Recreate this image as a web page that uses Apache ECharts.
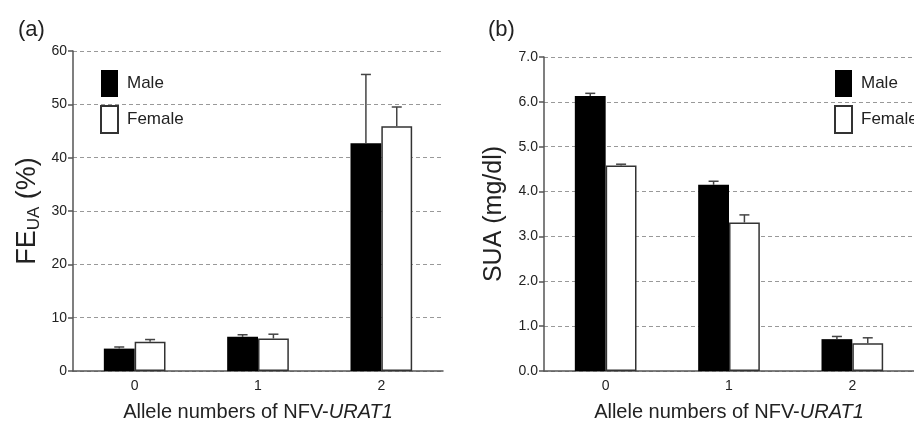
<!DOCTYPE html>
<html>
<head>
<meta charset="utf-8">
<script src="https://cdn.jsdelivr.net/npm/echarts@6/dist/echarts.min.js"></script>
<style>
html, body { margin: 0; padding: 0; background: #fff; }
#chart { width: 914px; height: 421px; }
</style>
</head>
<body>
<div id="chart"></div>
<script>
// allele numbers of NFV-URAT1
var categories = ['0', '1', '2'];

// (a) FE_UA (%)
var feMale = [4.2, 6.4, 42.7];
var feMaleErr = [0.3, 0.4, 12.9];
var feFemale = [5.5, 6.1, 45.9];
var feFemaleErr = [0.4, 0.8, 3.6];

// (b) SUA (mg/dl)
var suaMale = [6.13, 4.15, 0.71];
var suaMaleErr = [0.06, 0.08, 0.06];
var suaFemale = [4.58, 3.31, 0.62];
var suaFemaleErr = [0.03, 0.17, 0.12];

var feTicks = [0, 60, 10];
var suaTicks = [0, 7, 1];

var font = 'Liberation Sans, Arial, sans-serif';
var txt = '#222';
var axisCol = '#555';

function errData(vals, errs) {
    return vals.map(function (v, i) { return [i, v, errs[i]]; });
}

// error bar drawn only upward, sign picks male (left) or female (right) bar
function errRender(sign) {
    return function (params, api) {
        var c = api.value(0), v = api.value(1), e = api.value(2);
        var band = api.size([1, 0])[0];
        var x = api.coord([c, 0])[0] + sign * band / 8;
        var y0 = api.coord([c, v])[1];
        var y1 = api.coord([c, v + e])[1];
        var st = { stroke: '#444', lineWidth: 1.5 };
        return {
            type: 'group',
            children: [
                { type: 'line', shape: { x1: x, y1: y0, x2: x, y2: y1 }, style: st },
                { type: 'line', shape: { x1: x - 5, y1: y1, x2: x + 5, y2: y1 }, style: st }
            ]
        };
    };
}

function xAxisOpt(idx) {
    return {
        type: 'category',
        gridIndex: idx,
        data: categories,
        name: '{n|Allele numbers of NFV-}{i|URAT1}',
        nameLocation: 'middle',
        nameGap: 31,
        nameTextStyle: {
            rich: {
                n: { fontFamily: font, fontSize: 20, color: txt },
                i: { fontFamily: font, fontSize: 20, color: txt, fontStyle: 'italic' }
            }
        },
        axisLine: { lineStyle: { color: axisCol, width: 1.5 } },
        axisTick: { show: false },
        axisLabel: { fontFamily: font, fontSize: 14, color: txt, margin: 8 }
    };
}

function yAxisOpt(idx, t, name, gap, rich, dec) {
    return {
        type: 'value',
        gridIndex: idx,
        min: t[0],
        max: t[1],
        interval: t[2],
        name: name,
        nameLocation: 'middle',
        nameGap: gap,
        nameTextStyle: { rich: rich },
        axisLine: { show: true, lineStyle: { color: axisCol, width: 1.5 } },
        axisTick: { show: true, length: 5, lineStyle: { color: axisCol, width: 1.5 } },
        axisLabel: {
            fontFamily: font, fontSize: 14, color: txt, margin: 6,
            formatter: function (v) { return v.toFixed(dec); }
        },
        splitLine: { show: true, lineStyle: { color: '#999', type: [4, 3], width: 1 } }
    };
}

function barSeries(name, idx, data, female) {
    return {
        name: name,
        type: 'bar',
        xAxisIndex: idx,
        yAxisIndex: idx,
        data: data,
        barGap: 0,
        barCategoryGap: '50%',
        itemStyle: female
            ? { color: '#fff', borderColor: '#333', borderWidth: 1.5 }
            : { color: '#000', borderColor: '#000', borderWidth: 0 },
        z: 3
    };
}

function errSeries(idx, vals, errs, sign) {
    return {
        type: 'custom',
        xAxisIndex: idx,
        yAxisIndex: idx,
        data: errData(vals, errs),
        renderItem: errRender(sign),
        z: 4,
        silent: true
    };
}

var chart = echarts.init(document.getElementById('chart'), null, { renderer: 'canvas' });

var option = {
    backgroundColor: '#fff',
    animation: false,
    title: [
        { text: '(a)', left: 13, top: 14, textStyle: { fontFamily: font, fontSize: 22, fontWeight: 'normal', color: txt } },
        { text: '(b)', left: 483, top: 14, textStyle: { fontFamily: font, fontSize: 22, fontWeight: 'normal', color: txt } }
    ],
    legend: [
        {
            orient: 'vertical', left: 95, top: 65,
            icon: 'rect', itemWidth: 17, itemHeight: 27, itemGap: 8,
            data: ['Male', 'Female'],
            textStyle: { fontFamily: font, fontSize: 17, color: txt, padding: [0, 0, 0, 4] }
        },
        {
            orient: 'vertical', left: 829, top: 65,
            icon: 'rect', itemWidth: 17, itemHeight: 27, itemGap: 8,
            data: ['Male', 'Female'],
            textStyle: { fontFamily: font, fontSize: 17, color: txt, padding: [0, 0, 0, 4] }
        }
    ],
    grid: [
        { left: 73, right: 471, top: 51, bottom: 50, outerBoundsMode: 'none' },
        { left: 544, right: 0, top: 57, bottom: 50, outerBoundsMode: 'none' }
    ],
    xAxis: [xAxisOpt(0), xAxisOpt(1)],
    yAxis: [
        yAxisOpt(0, feTicks, '{a|FE}{s|UA}{a| (%)}', 30, {
            a: { fontFamily: font, fontSize: 27, color: txt, lineHeight: 30 },
            s: { fontFamily: font, fontSize: 17, color: txt, lineHeight: 14, verticalAlign: 'bottom' }
        }, 0),
        yAxisOpt(1, suaTicks, '{a|SUA (mg/dl)}', 37, {
            a: { fontFamily: font, fontSize: 25, color: txt }
        }, 1)
    ],
    series: [
        barSeries('Male', 0, feMale, false),
        barSeries('Female', 0, feFemale, true),
        errSeries(0, feMale, feMaleErr, -1),
        errSeries(0, feFemale, feFemaleErr, 1),
        barSeries('Male', 1, suaMale, false),
        barSeries('Female', 1, suaFemale, true),
        errSeries(1, suaMale, suaMaleErr, -1),
        errSeries(1, suaFemale, suaFemaleErr, 1)
    ]
};

chart.setOption(option);
window.addEventListener('resize', function () {
    chart.resize();
});
</script>
</body>
</html>
